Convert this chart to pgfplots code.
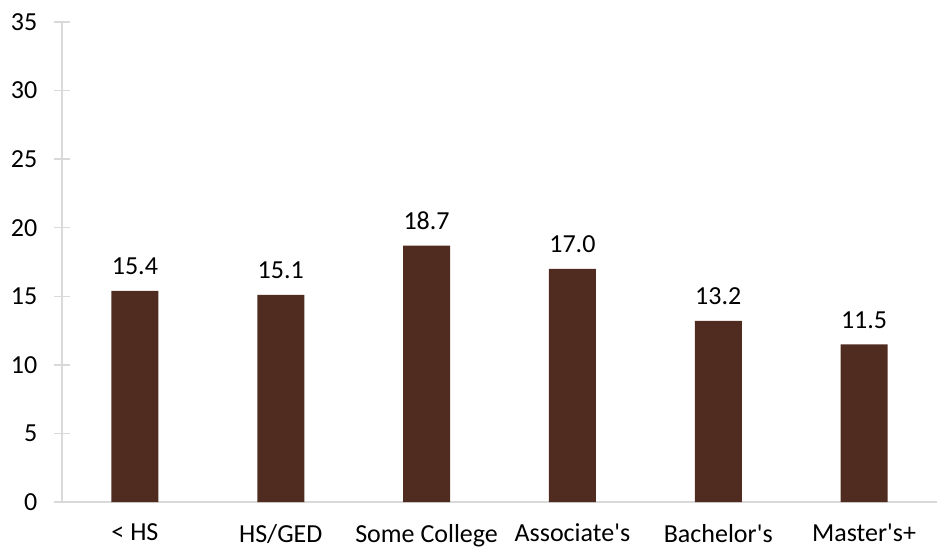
\documentclass[border=0pt]{standalone}
\usepackage{pgfplots}
\pgfplotsset{compat=1.18}
\usepackage{fontspec}
\setmainfont{Carlito}
\definecolor{barbrown}{RGB}{79,44,31}
\definecolor{axisgray}{RGB}{217,217,217}

\begin{document}
\begin{tikzpicture}
\begin{axis}[
    at={(0,0)}, anchor=south west,
    width=656.25pt, height=360pt,
    scale only axis,
    ymin=0, ymax=35,
    ytick={0,5,...,35},
    xmin=-0.5, xmax=5.5,
    xtick=data,
    xticklabels={< HS, HS/GED, Some College, Associate\textquotesingle s, Bachelor\textquotesingle s, Master\textquotesingle s+},
    axis x line*=bottom,
    axis y line*=left,
    axis line style={axisgray, line width=1pt},
    y axis line style={-},
    x axis line style={-},
    tick style={axisgray, line width=1pt},
    tick align=center,
    major tick length=12pt,
    xtick style={draw=none},
    font=\fontsize{19.5pt}{23pt}\selectfont,
    /pgf/number format/assume math mode=true,
    yticklabel style={xshift=-9pt},
    xticklabel style={yshift=-1pt},
    ybar,
    bar width=35.25pt,
    nodes near coords,
    nodes near coords style={yshift=8.5pt, /pgf/number format/.cd, fixed, fixed zerofill, precision=1},
]
\addplot[fill=barbrown, draw=none] coordinates {
    (0,15.4) (1,15.1) (2,18.7) (3,17.0) (4,13.2) (5,11.5)
};
\end{axis}
\pgfresetboundingbox
\path (-46.5pt,-33.75pt) rectangle (656.25pt,376.5pt);
\end{tikzpicture}
\end{document}
